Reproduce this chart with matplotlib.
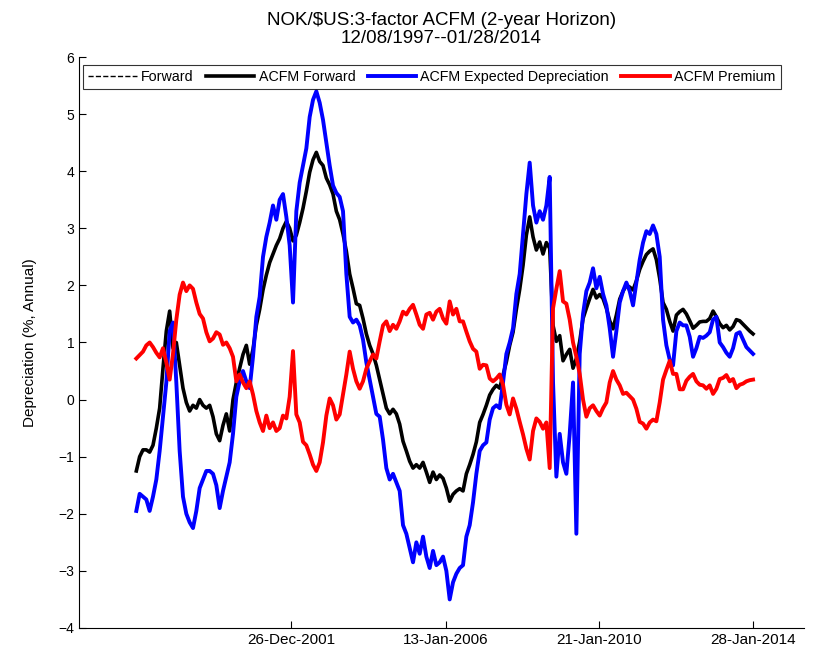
import numpy as np
import pandas as pd
import matplotlib
matplotlib.use('Agg')
import matplotlib.pyplot as plt
import matplotlib.dates as mdates

plt.rcParams['font.family'] = ['Liberation Sans', 'DejaVu Sans']

# sample dates, evenly spread over the data range 12/08/1997 -- 01/28/2014
dates = pd.date_range('1997-12-08', '2014-01-28', periods=186)

expected_dep = [
    -1.95, -1.65, -1.7, -1.75, -1.95, -1.7, -1.4, -0.9, -0.3, 0.3,
    1.2, 1.35, 0.3, -0.9, -1.7, -2.0, -2.15, -2.25, -1.95, -1.55,
    -1.4, -1.25, -1.25, -1.3, -1.5, -1.9, -1.6, -1.35, -1.1, -0.6,
    0.05, 0.32, 0.5, 0.32, 0.2, 0.75, 1.45, 1.8, 2.5, 2.85,
    3.1, 3.4, 3.15, 3.5, 3.6, 3.2, 2.7, 1.7, 3.3, 3.8,
    4.1, 4.4, 4.95, 5.25, 5.4, 5.2, 4.9, 4.5, 4.1, 3.75,
    3.62, 3.55, 3.3, 2.2, 1.45, 1.35, 1.4, 1.3, 1.05, 0.65,
    0.35, 0.05, -0.25, -0.3, -0.7, -1.2, -1.4, -1.3, -1.45, -1.6,
    -2.2, -2.35, -2.6, -2.85, -2.5, -2.7, -2.4, -2.75, -2.95, -2.65,
    -2.9, -2.85, -2.75, -3.0, -3.5, -3.2, -3.05, -2.95, -2.9, -2.4,
    -2.2, -1.8, -1.3, -0.9, -0.8, -0.75, -0.35, -0.15, -0.1, -0.15,
    0.3, 0.8, 1.0, 1.25, 1.85, 2.2, 2.9, 3.6, 4.15, 3.4,
    3.1, 3.3, 3.15, 3.4, 3.9, 0.3, -1.35, -0.6, -1.1, -1.3,
    -0.6, 0.3, -2.35, 0.8, 1.5, 1.9, 2.05, 2.3, 1.95, 2.15,
    1.85, 1.65, 1.25, 0.75, 1.2, 1.7, 1.9, 2.05, 1.9, 1.65,
    2.05, 2.45, 2.75, 2.95, 2.9, 3.05, 2.9, 2.5, 1.4, 0.95,
    0.7, 0.6, 1.2, 1.35, 1.3, 1.3, 1.1, 0.75, 0.9, 1.1,
    1.08, 1.12, 1.18, 1.4, 1.45, 1.0, 0.92, 0.82, 0.75, 0.9,
    1.15, 1.18, 1.05, 0.92, 0.86, 0.8]

acfm_fwd = [
    -1.25, -1.0, -0.88, -0.88, -0.92, -0.8, -0.5, -0.15, 0.55, 1.2,
    1.55, 0.9, 1.0, 0.6, 0.2, -0.05, -0.2, -0.1, -0.15, 0.0,
    -0.1, -0.15, -0.1, -0.3, -0.6, -0.72, -0.45, -0.25, -0.55, 0.0,
    0.3, 0.55, 0.79, 0.95, 0.62, 0.88, 1.3, 1.58, 1.92, 2.18,
    2.4, 2.55, 2.7, 2.82, 3.0, 3.12, 3.0, 2.78, 2.88, 3.1,
    3.35, 3.65, 3.98, 4.2, 4.33, 4.17, 4.1, 3.88, 3.76, 3.6,
    3.3, 3.15, 2.9, 2.6, 2.2, 1.95, 1.68, 1.65, 1.42, 1.15,
    0.95, 0.8, 0.6, 0.35, 0.1, -0.15, -0.25, -0.17, -0.25, -0.43,
    -0.73, -0.9, -1.08, -1.2, -1.14, -1.2, -1.1, -1.27, -1.45, -1.27,
    -1.4, -1.32, -1.38, -1.55, -1.78, -1.66, -1.6, -1.56, -1.6, -1.3,
    -1.14, -0.96, -0.74, -0.4, -0.26, -0.1, 0.08, 0.18, 0.25, 0.2,
    0.43, 0.66, 0.95, 1.18, 1.58, 1.93, 2.35, 2.88, 3.2, 2.85,
    2.62, 2.76, 2.55, 2.75, 2.65, 1.3, 1.02, 1.12, 0.68, 0.79,
    0.88, 0.55, 0.72, 1.02, 1.42, 1.6, 1.77, 1.93, 1.78, 1.84,
    1.77, 1.6, 1.38, 1.24, 1.48, 1.76, 1.9, 2.0, 1.97, 1.92,
    2.08, 2.28, 2.42, 2.54, 2.6, 2.64, 2.45, 2.12, 1.7, 1.58,
    1.37, 1.2, 1.48, 1.54, 1.58, 1.5, 1.38, 1.25, 1.3, 1.36,
    1.37, 1.37, 1.42, 1.55, 1.45, 1.33, 1.26, 1.3, 1.22, 1.28,
    1.4, 1.38, 1.32, 1.26, 1.2, 1.15]

# observed forward lies on top of the fitted one
forward = list(acfm_fwd)

premium = [
    0.72, 0.78, 0.84, 0.95, 1.0, 0.92, 0.82, 0.74, 0.9, 0.65,
    0.35, 0.8, 1.4, 1.84, 2.05, 1.9, 2.0, 1.94, 1.7, 1.5,
    1.42, 1.18, 1.02, 1.07, 1.18, 1.14, 0.96, 1.0, 0.9, 0.75,
    0.32, 0.44, 0.3, 0.2, 0.32, 0.09, -0.2, -0.4, -0.55, -0.28,
    -0.5, -0.4, -0.55, -0.5, -0.28, -0.33, 0.05, 0.85, -0.26, -0.4,
    -0.74, -0.8, -0.96, -1.14, -1.25, -1.1, -0.75, -0.28, 0.02, -0.1,
    -0.35, -0.26, 0.09, 0.44, 0.84, 0.54, 0.32, 0.19, 0.32, 0.54,
    0.67, 0.79, 0.72, 1.02, 1.3, 1.37, 1.2, 1.31, 1.24, 1.37,
    1.54, 1.49, 1.59, 1.66, 1.49, 1.31, 1.24, 1.49, 1.52, 1.4,
    1.54, 1.59, 1.42, 1.33, 1.72, 1.49, 1.59, 1.37, 1.37, 1.19,
    1.02, 0.89, 0.84, 0.54, 0.61, 0.6, 0.37, 0.32, 0.37, 0.44,
    0.26, -0.09, -0.26, 0.02, -0.16, -0.39, -0.61, -0.86, -1.05, -0.55,
    -0.33, -0.39, -0.51, -0.4, -1.2, 1.6, 1.94, 2.25, 1.72, 1.68,
    1.4, 1.0, 0.75, 0.45, 0.0, -0.3, -0.15, -0.1, -0.2, -0.28,
    -0.15, -0.05, 0.3, 0.5, 0.35, 0.25, 0.1, 0.12, 0.06, 0.0,
    -0.16, -0.39, -0.42, -0.51, -0.4, -0.35, -0.38, -0.05, 0.35, 0.52,
    0.68, 0.45, 0.45, 0.18, 0.18, 0.33, 0.4, 0.45, 0.32, 0.26,
    0.25, 0.19, 0.25, 0.1, 0.19, 0.36, 0.38, 0.43, 0.32, 0.36,
    0.2, 0.26, 0.28, 0.32, 0.34, 0.35]

tick_dates = ['2001-12-26', '2006-01-13', '2010-01-21', '2014-01-28']

fig = plt.figure(figsize=(8.16, 6.54), dpi=100)
ax = fig.add_axes([0.0968, 0.0398, 0.8885, 0.873])

ax.plot(dates, forward, 'k--', lw=1.0, label='Forward')
ax.plot(dates, acfm_fwd, color='k', lw=2.6, label='ACFM Forward')
ax.plot(dates, expected_dep, color='b', lw=2.8, label='ACFM Expected Depreciation')
ax.plot(dates, premium, color='r', lw=2.8, label='ACFM Premium')

ax.set_xlim(pd.Timestamp('1996-06-08'), pd.Timestamp('2015-05-30'))
ax.set_ylim(-4, 6)
ax.set_yticks(np.arange(-4, 7, 1))
ax.set_xticks(pd.to_datetime(tick_dates))
ax.xaxis.set_major_formatter(mdates.DateFormatter('%d-%b-%Y'))
ax.tick_params(direction='in', labelsize=10, length=5, top=False, right=False)
ax.tick_params(axis='x', labelsize=11)
ax.spines['top'].set_visible(False)
ax.spines['right'].set_visible(False)
ax.set_ylabel('Depreciation (%, Annual)', fontsize=11)
ax.yaxis.set_label_coords(-0.058, 0.5)
ax.set_title('NOK/\\$US:3-factor ACFM (2-year Horizon)\n12/08/1997--01/28/2014',
             fontsize=13.5, linespacing=1.05, pad=10)

leg = ax.legend(loc='upper left', bbox_to_anchor=(0.0055, 0.986), ncol=4,
                fontsize=10.3, frameon=True, fancybox=False, borderaxespad=0,
                handlelength=3.4, handletextpad=0.3, columnspacing=0.85,
                borderpad=0.35)
leg.get_frame().set_edgecolor('k')
leg.get_frame().set_linewidth(0.8)

fig.savefig('out.png', dpi=100)
